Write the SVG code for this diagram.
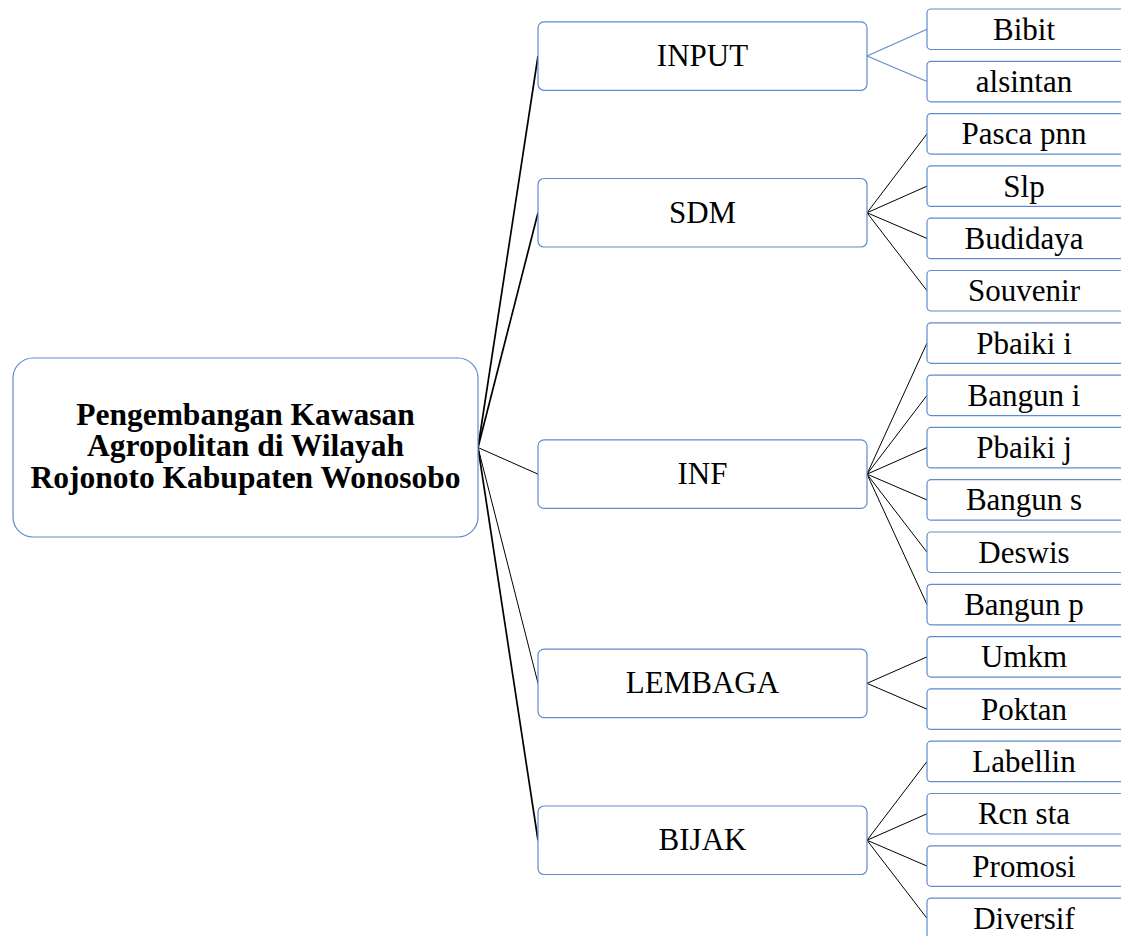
<svg xmlns="http://www.w3.org/2000/svg" width="1121" height="936" viewBox="0 0 1121 936">
<style>
.box{fill:#fff;stroke:#5F8CCB;stroke-width:1.2}
.t{font-family:"Liberation Serif","Times New Roman",serif;font-size:31px;fill:#000;text-anchor:middle}
.b{font-weight:bold;font-size:31.5px}
.c{stroke:#000;fill:none;stroke-width:1}
.ct{stroke:#000;fill:none;stroke-width:1.7}
.cb{stroke:#5F8CCB;fill:none;stroke-width:1.1}
</style>
<rect width="1121" height="936" fill="#fff"/>
<g id="connectors">
<line class="ct" x1="478" y1="447.5" x2="538" y2="56"/>
<line class="ct" x1="478" y1="447.5" x2="538" y2="212.75"/>
<line class="c" x1="478" y1="447.5" x2="538" y2="474.15"/>
<line class="c" x1="478" y1="447.5" x2="538" y2="683.35"/>
<line class="ct" x1="478" y1="447.5" x2="538" y2="840.25"/>
<line class="cb" x1="867" y1="56" x2="927" y2="29.25"/>
<line class="cb" x1="867" y1="56" x2="927" y2="81.55"/>
<line class="c" x1="867" y1="212.75" x2="927" y2="133.85"/>
<line class="c" x1="867" y1="212.75" x2="927" y2="186.15"/>
<line class="c" x1="867" y1="212.75" x2="927" y2="238.45"/>
<line class="c" x1="867" y1="212.75" x2="927" y2="290.75"/>
<line class="c" x1="867" y1="474.15" x2="927" y2="343.05"/>
<line class="c" x1="867" y1="474.15" x2="927" y2="395.35"/>
<line class="c" x1="867" y1="474.15" x2="927" y2="447.65"/>
<line class="c" x1="867" y1="474.15" x2="927" y2="499.95"/>
<line class="c" x1="867" y1="474.15" x2="927" y2="552.25"/>
<line class="c" x1="867" y1="474.15" x2="927" y2="604.55"/>
<line class="c" x1="867" y1="683.35" x2="927" y2="656.85"/>
<line class="c" x1="867" y1="683.35" x2="927" y2="709.15"/>
<line class="c" x1="867" y1="840.25" x2="927" y2="761.45"/>
<line class="c" x1="867" y1="840.25" x2="927" y2="813.75"/>
<line class="c" x1="867" y1="840.25" x2="927" y2="866.05"/>
<line class="c" x1="867" y1="840.25" x2="927" y2="918.35"/>
</g>
<g id="root">
<rect class="box" x="13" y="358" width="465" height="179" rx="20"/>
<text class="t b"><tspan x="245.5" y="424.5">Pengembangan Kawasan</tspan><tspan x="245.5" y="456">Agropolitan di Wilayah</tspan><tspan x="245.5" y="487.5">Rojonoto Kabupaten Wonosobo</tspan></text>
</g>
<g id="input"><rect class="box" x="538" y="21.8" width="329" height="68.5" rx="6"/><text class="t" x="702.5" y="66">INPUT</text></g>
<g id="sdm"><rect class="box" x="538" y="178.5" width="329" height="68.5" rx="6"/><text class="t" x="702.5" y="222.75">SDM</text></g>
<g id="inf"><rect class="box" x="538" y="439.9" width="329" height="68.5" rx="6"/><text class="t" x="702.5" y="484.15">INF</text></g>
<g id="lembaga"><rect class="box" x="538" y="649.1" width="329" height="68.5" rx="6"/><text class="t" x="702.5" y="693.35">LEMBAGA</text></g>
<g id="bijak"><rect class="box" x="538" y="806" width="329" height="68.5" rx="6"/><text class="t" x="702.5" y="850.25">BIJAK</text></g>
<g id="bibit"><rect class="box" x="927" y="9" width="200" height="40.5" rx="4"/><text class="t" x="1024" y="39.75">Bibit</text></g>
<g id="alsintan"><rect class="box" x="927" y="61.3" width="200" height="40.5" rx="4"/><text class="t" x="1024" y="92.05">alsintan</text></g>
<g id="pasca"><rect class="box" x="927" y="113.6" width="200" height="40.5" rx="4"/><text class="t" x="1024" y="144.35">Pasca pnn</text></g>
<g id="slp"><rect class="box" x="927" y="165.9" width="200" height="40.5" rx="4"/><text class="t" x="1024" y="196.65">Slp</text></g>
<g id="budidaya"><rect class="box" x="927" y="218.2" width="200" height="40.5" rx="4"/><text class="t" x="1024" y="248.95">Budidaya</text></g>
<g id="souvenir"><rect class="box" x="927" y="270.5" width="200" height="40.5" rx="4"/><text class="t" x="1024" y="301.25">Souvenir</text></g>
<g id="pbaiki-i"><rect class="box" x="927" y="322.8" width="200" height="40.5" rx="4"/><text class="t" x="1024" y="353.55">Pbaiki i</text></g>
<g id="bangun-i"><rect class="box" x="927" y="375.1" width="200" height="40.5" rx="4"/><text class="t" x="1024" y="405.85">Bangun i</text></g>
<g id="pbaiki-j"><rect class="box" x="927" y="427.4" width="200" height="40.5" rx="4"/><text class="t" x="1024" y="458.15">Pbaiki j</text></g>
<g id="bangun-s"><rect class="box" x="927" y="479.7" width="200" height="40.5" rx="4"/><text class="t" x="1024" y="510.45">Bangun s</text></g>
<g id="deswis"><rect class="box" x="927" y="532" width="200" height="40.5" rx="4"/><text class="t" x="1024" y="562.75">Deswis</text></g>
<g id="bangun-p"><rect class="box" x="927" y="584.3" width="200" height="40.5" rx="4"/><text class="t" x="1024" y="615.05">Bangun p</text></g>
<g id="umkm"><rect class="box" x="927" y="636.6" width="200" height="40.5" rx="4"/><text class="t" x="1024" y="667.35">Umkm</text></g>
<g id="poktan"><rect class="box" x="927" y="688.9" width="200" height="40.5" rx="4"/><text class="t" x="1024" y="719.65">Poktan</text></g>
<g id="labellin"><rect class="box" x="927" y="741.2" width="200" height="40.5" rx="4"/><text class="t" x="1024" y="771.95">Labellin</text></g>
<g id="rcn-sta"><rect class="box" x="927" y="793.5" width="200" height="40.5" rx="4"/><text class="t" x="1024" y="824.25">Rcn sta</text></g>
<g id="promosi"><rect class="box" x="927" y="845.8" width="200" height="40.5" rx="4"/><text class="t" x="1024" y="876.55">Promosi</text></g>
<g id="diversif"><rect class="box" x="927" y="898.1" width="200" height="40.5" rx="4"/><text class="t" x="1024" y="928.85">Diversif</text></g>
</svg>
